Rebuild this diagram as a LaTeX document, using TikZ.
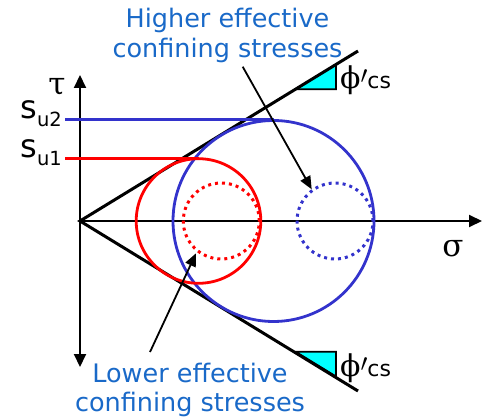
\documentclass[tikz,border=0pt]{standalone}
\usepackage{fontspec}
\setmainfont{DejaVu Sans}
\newfontfamily\grk{DejaVu Serif}
\usetikzlibrary{arrows.meta}
\definecolor{txtblue}{RGB}{25,105,200}
\definecolor{cblue}{RGB}{51,51,204}
\definecolor{cred}{RGB}{255,0,0}
\definecolor{tcyan}{RGB}{0,255,255}
\newcommand{\phics}{{\grk\fontsize{30}{30}\selectfont ϕ}\raisebox{5pt}{\fontsize{30}{30}\selectfont$\prime$}{\fontsize{22}{22}\selectfont cs}}
\tikzset{
  axisline/.style={line width=2pt,-{Triangle[length=13pt,width=12pt]}},
  envline/.style={line width=3pt},
  bigcirc/.style={line width=2.8pt},
  dotcirc/.style={line width=3pt,dash pattern=on 3pt off 4pt},
  suline/.style={line width=3pt},
  callout/.style={line width=1.8pt,-{Triangle[length=13pt,width=11pt]}},
  notetext/.style={text=txtblue,align=center,inner sep=0pt,font=\fontsize{25.5}{29.5}\selectfont},
  greek/.style={inner sep=0pt,font=\grk\fontsize{31}{31}\selectfont},
  angtri/.style={fill=tcyan,draw=black,line width=1.8pt},
}
\begin{document}
\begin{tikzpicture}[x=1pt,y=-1pt]
\useasboundingbox (0,0) rectangle (485,417);
% coordinates
\coordinate (O) at (80,221);
\coordinate (ytop) at (80,75);
\coordinate (ybot) at (80,367);
\coordinate (xend) at (482,221);
\coordinate (envU) at (358,51);
\coordinate (envL) at (358,391);
% angle triangles
\draw[angtri] (295.5,89.3) -- (336,89.3) -- (336,64.5) -- cycle;
\draw[angtri] (295.5,351.7) -- (336,351.7) -- (336,376.5) -- cycle;
% axes
\draw[axisline] (O) -- (ytop);
\draw[axisline] (O) -- (ybot);
\draw[axisline] (O) -- (xend);
% envelope
\draw[envline] (envU) -- (O) -- (envL);
% circles
\draw[bigcirc,cblue] (273.5,221) circle[radius=100.5pt];
\draw[bigcirc,cred] (198.5,221) circle[radius=62.3pt];
\draw[dotcirc,cred] (221.3,221) circle[radius=38pt];
\draw[dotcirc,cblue] (335,221) circle[radius=38pt];
% su lines
\coordinate (su2s) at (65,120);
\coordinate (su2e) at (273.5,120);
\coordinate (su1s) at (65,158.5);
\coordinate (su1e) at (198.5,158.5);
\draw[suline,cblue] (su2s) -- (su2e);
\draw[suline,cred] (su1s) -- (su1e);
% labels
\node[anchor=base east,inner sep=0pt] (lsu2) at (62,119)
  {\fontsize{32}{32}\selectfont s\raisebox{-8pt}{\fontsize{19.5}{19.5}\selectfont u2}};
\node[anchor=base east,inner sep=0pt] (lsu1) at (62,157.3)
  {\fontsize{32}{32}\selectfont s\raisebox{-8pt}{\fontsize{19.5}{19.5}\selectfont u1}};
\node[greek,anchor=base] (ltau) at (57,95) {τ};
\node[greek,anchor=base] (lsig) at (453,256.5) {σ};
\node[anchor=base west,inner sep=0pt] (phiU) at (340,89) {\phics};
\node[anchor=base west,inner sep=0pt] (phiL) at (340,376) {\phics};
% notes
\node[notetext] (hi) at (227.5,35.5) {Higher effective\\confining stresses};
\node[notetext] (lo) at (190,390) {Lower effective\\confining stresses};
\coordinate (hiA) at (242.7,66.7);
\coordinate (hiB) at (311.7,189.3);
\coordinate (loA) at (150,352);
\coordinate (loB) at (196,253.3);
\draw[callout] (hiA) -- (hiB);
\draw[callout] (loA) -- (loB);
\end{tikzpicture}
\end{document}
